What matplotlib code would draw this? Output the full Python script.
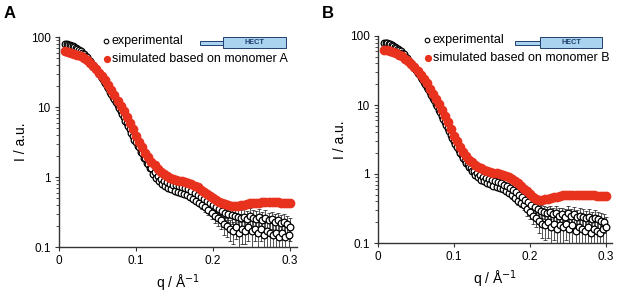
import numpy as np
import matplotlib.pyplot as plt
from matplotlib.patches import Rectangle
from matplotlib.lines import Line2D
from matplotlib.ticker import LogLocator, FixedLocator, NullFormatter

plt.rcParams['font.family'] = ['Liberation Sans', 'DejaVu Sans']

# scattering vector q (1/Angstrom) for the simulated curves
q_sim = [0.008, 0.012, 0.016, 0.020, 0.024, 0.028, 0.032, 0.036, 0.040, 0.044,
         0.048, 0.052, 0.056, 0.060, 0.064, 0.068, 0.072, 0.076, 0.080, 0.084,
         0.088, 0.092, 0.096, 0.100, 0.104, 0.108, 0.112, 0.116, 0.120, 0.124,
         0.128, 0.132, 0.136, 0.140, 0.144, 0.148, 0.152, 0.156, 0.160, 0.164,
         0.168, 0.172, 0.176, 0.180, 0.184, 0.188, 0.192, 0.196, 0.200, 0.204,
         0.208, 0.212, 0.216, 0.220, 0.224, 0.228, 0.232, 0.236, 0.240, 0.244,
         0.248, 0.252, 0.256, 0.260, 0.264, 0.268, 0.272, 0.276, 0.280, 0.284,
         0.288, 0.292, 0.296, 0.300]

# q for the experimental points
q_exp = [0.008, 0.010, 0.012, 0.014, 0.016, 0.018, 0.020, 0.022, 0.024, 0.026,
         0.028, 0.030, 0.032, 0.034, 0.036, 0.038, 0.040, 0.042, 0.044, 0.046,
         0.048, 0.050, 0.052, 0.054, 0.056, 0.058, 0.060, 0.062, 0.064, 0.066,
         0.068, 0.070, 0.072, 0.074, 0.076, 0.078, 0.080, 0.082, 0.084, 0.086,
         0.088, 0.090, 0.092, 0.094, 0.096, 0.098, 0.100, 0.102, 0.104, 0.106,
         0.108, 0.110, 0.112, 0.114, 0.116, 0.118, 0.120, 0.122, 0.124, 0.126,
         0.128, 0.130, 0.132, 0.134, 0.136, 0.138, 0.140, 0.142, 0.144, 0.146,
         0.148, 0.150, 0.152, 0.154, 0.156, 0.158, 0.160, 0.162, 0.164, 0.166,
         0.168, 0.170, 0.172, 0.174, 0.176, 0.178, 0.180, 0.182, 0.184, 0.186,
         0.188, 0.190, 0.192, 0.194, 0.196, 0.198, 0.200, 0.202, 0.204, 0.206,
         0.208, 0.210, 0.212, 0.214, 0.216, 0.218, 0.220, 0.222, 0.224, 0.226,
         0.228, 0.230, 0.232, 0.234, 0.236, 0.238, 0.240, 0.242, 0.244, 0.246,
         0.248, 0.250, 0.252, 0.254, 0.256, 0.258, 0.260, 0.262, 0.264, 0.266,
         0.268, 0.270, 0.272, 0.274, 0.276, 0.278, 0.280, 0.282, 0.284, 0.286,
         0.288, 0.290, 0.292, 0.294, 0.296, 0.298, 0.300]

err_exp = [1.6, 1.6, 1.5, 1.5, 1.4, 1.4, 1.3, 1.3, 1.2, 1.2,
           1.1, 1.1, 1.0, 1.0, 0.9, 0.9, 0.8, 0.8, 0.7, 0.7,
           0.6, 0.6, 0.5, 0.5, 0.45, 0.45, 0.4, 0.4, 0.33, 0.33,
           0.28, 0.28, 0.24, 0.24, 0.2, 0.2, 0.17, 0.17, 0.14, 0.14,
           0.12, 0.12, 0.1, 0.1, 0.09, 0.09, 0.08, 0.08, 0.07, 0.07,
           0.06, 0.06, 0.06, 0.06, 0.05, 0.05, 0.05, 0.05, 0.05, 0.05,
           0.05, 0.05, 0.05, 0.05, 0.05, 0.05, 0.05, 0.05, 0.05, 0.05,
           0.05, 0.05, 0.05, 0.05, 0.05, 0.05, 0.05, 0.05, 0.05, 0.05,
           0.05, 0.05, 0.05, 0.05, 0.05, 0.05, 0.05, 0.05, 0.05, 0.05,
           0.05, 0.05, 0.05, 0.05, 0.06, 0.06, 0.06, 0.06, 0.06, 0.06,
           0.06, 0.06, 0.07, 0.06, 0.07, 0.06, 0.07, 0.06, 0.08, 0.06,
           0.08, 0.06, 0.08, 0.07, 0.08, 0.07, 0.08, 0.06, 0.08, 0.07,
           0.08, 0.07, 0.08, 0.06, 0.08, 0.07, 0.08, 0.06, 0.08, 0.07,
           0.08, 0.07, 0.07, 0.06, 0.07, 0.07, 0.07, 0.06, 0.07, 0.07,
           0.07, 0.06, 0.07, 0.06, 0.07, 0.06, 0.07]

# panel A
exp_a = [80, 80, 78, 78, 75, 74, 72, 69, 68, 65,
         63, 59, 57, 53, 51, 47, 45, 42, 40, 37,
         35, 32, 30, 28, 26, 23.5, 22, 20, 18.5, 16.6,
         15.5, 14, 13, 11.6, 10.8, 9.6, 8.9, 7.9, 7.3, 6.4,
         6.0, 5.3, 4.9, 4.3, 3.9, 3.4, 3.2, 2.8, 2.65, 2.25,
         2.2, 1.88, 1.85, 1.58, 1.55, 1.33, 1.34, 1.12, 1.17, 0.98,
         1.05, 0.88, 0.95, 0.80, 0.89, 0.74, 0.84, 0.70, 0.80, 0.67,
         0.78, 0.64, 0.76, 0.62, 0.74, 0.60, 0.72, 0.57, 0.69, 0.55,
         0.67, 0.52, 0.63, 0.49, 0.60, 0.46, 0.56, 0.43, 0.52, 0.40,
         0.49, 0.37, 0.45, 0.34, 0.42, 0.31, 0.40, 0.28, 0.37, 0.26,
         0.35, 0.24, 0.33, 0.21, 0.31, 0.20, 0.30, 0.18, 0.29, 0.17,
         0.28, 0.19, 0.27, 0.16, 0.26, 0.18, 0.27, 0.17, 0.25, 0.19,
         0.28, 0.17, 0.26, 0.18, 0.25, 0.16, 0.27, 0.18, 0.24, 0.15,
         0.26, 0.17, 0.24, 0.16, 0.25, 0.15, 0.23, 0.16, 0.24, 0.14,
         0.22, 0.16, 0.23, 0.14, 0.21, 0.15, 0.19]
sim_a = [63, 62, 60, 58, 56, 53.5, 50.5, 47, 43, 39,
         35, 31, 27.5, 24, 20.5, 17.3, 14.6, 12.3, 10.5, 8.8,
         7.3, 6.0, 4.8, 3.8, 3.2, 2.65, 2.2, 1.9, 1.65, 1.47,
         1.3, 1.18, 1.09, 1.02, 0.97, 0.93, 0.91, 0.89, 0.87, 0.85,
         0.82, 0.79, 0.75, 0.71, 0.66, 0.62, 0.58, 0.54, 0.50, 0.47,
         0.44, 0.42, 0.41, 0.40, 0.39, 0.39, 0.39, 0.40, 0.40, 0.41,
         0.42, 0.42, 0.43, 0.43, 0.44, 0.44, 0.44, 0.44, 0.44, 0.44,
         0.43, 0.43, 0.43, 0.43]

# panel B
exp_b = [79, 80, 78, 77, 76, 74, 71, 70, 67, 65,
         62, 60, 56, 54, 50, 48, 44, 42, 39, 37,
         34, 32, 29.5, 28, 25.5, 24, 21.5, 20, 18.2, 16.8,
         15.2, 14, 12.7, 11.7, 10.5, 9.6, 8.6, 7.8, 7.0, 6.3,
         5.7, 5.2, 4.6, 4.2, 3.7, 3.35, 3.0, 2.75, 2.45, 2.25,
         2.0, 1.9, 1.7, 1.62, 1.45, 1.4, 1.25, 1.22, 1.1, 1.1,
         0.98, 1.02, 0.90, 0.96, 0.83, 0.91, 0.78, 0.88, 0.74, 0.85,
         0.71, 0.82, 0.68, 0.79, 0.65, 0.76, 0.62, 0.73, 0.60, 0.70,
         0.56, 0.66, 0.53, 0.62, 0.49, 0.58, 0.45, 0.54, 0.41, 0.50,
         0.38, 0.46, 0.35, 0.42, 0.31, 0.39, 0.28, 0.36, 0.25, 0.33,
         0.23, 0.31, 0.21, 0.29, 0.19, 0.28, 0.18, 0.27, 0.20, 0.28,
         0.17, 0.26, 0.19, 0.27, 0.16, 0.25, 0.18, 0.26, 0.17, 0.24,
         0.19, 0.27, 0.16, 0.25, 0.18, 0.26, 0.15, 0.24, 0.17, 0.25,
         0.16, 0.24, 0.15, 0.23, 0.17, 0.24, 0.14, 0.22, 0.16, 0.23,
         0.15, 0.22, 0.14, 0.21, 0.16, 0.20, 0.17]
sim_b = [63, 62, 60, 58, 56, 53.5, 50.5, 47, 43, 39,
         35, 31, 27.5, 24, 20.5, 17.3, 14.6, 12.3, 10.3, 8.5,
         6.9, 5.6, 4.5, 3.6, 3.0, 2.5, 2.1, 1.82, 1.62, 1.47,
         1.36, 1.28, 1.21, 1.16, 1.12, 1.08, 1.05, 1.02, 0.99, 0.96,
         0.93, 0.89, 0.85, 0.79, 0.73, 0.67, 0.61, 0.56, 0.51, 0.47,
         0.44, 0.42, 0.42, 0.43, 0.44, 0.45, 0.46, 0.47, 0.48, 0.49,
         0.50, 0.50, 0.50, 0.50, 0.50, 0.50, 0.50, 0.50, 0.49, 0.49,
         0.48, 0.48, 0.48, 0.48]

W, H = 617, 294
RED = '#e8321e'
BLUE_FILL = '#a9d3ef'
BLUE_EDGE = '#1f3f6e'


def px(x, y):
    """pixel position (from top-left) -> figure fraction"""
    return x / W, 1 - y / H


def draw_panel(fig, rect, exp, sim, xmax):
    ax = fig.add_axes(rect)
    ax.errorbar(q_exp, exp, yerr=err_exp, fmt='none', ecolor='#111111',
                elinewidth=0.5, capsize=1.3, capthick=0.5, zorder=2)
    ax.plot(q_exp, exp, 'o', ms=4.8, mfc='white', mec='black', mew=0.9,
            zorder=3)
    # dense simulated points form a continuous thick band
    ax.plot(q_sim, sim, '-o', lw=4.3, ms=6.0, color=RED, mec=RED,
            solid_capstyle='round', zorder=4)

    ax.set_yscale('log')
    ax.set_ylim(0.1, 100)
    ax.set_xlim(0, xmax)
    ax.xaxis.set_major_locator(FixedLocator([0, 0.1, 0.2, 0.3]))
    ax.set_xticklabels(['0', '0.1', '0.2', '0.3'])
    ax.yaxis.set_major_locator(FixedLocator([0.1, 1, 10, 100]))
    ax.set_yticklabels(['0.1', '1', '10', '100'])
    ax.yaxis.set_minor_locator(LogLocator(base=10, subs=np.arange(2, 10)))
    ax.yaxis.set_minor_formatter(NullFormatter())
    ax.tick_params(axis='both', which='major', labelsize=8.5, length=3,
                   width=0.8, color='#333333', pad=3)
    ax.tick_params(axis='y', which='minor', length=2, width=0.6,
                   color='#333333')
    for side in ['top', 'right']:
        ax.spines[side].set_visible(False)
    for side in ['left', 'bottom']:
        ax.spines[side].set_color('#333333')
        ax.spines[side].set_linewidth(1.0)
    ax.set_xlabel('q / Å$^{-1}$', fontsize=10, labelpad=4)
    ax.set_ylabel('I / a.u.', fontsize=10, labelpad=2)
    return ax


def draw_legend(fig, x0, y0, text, hect):
    fig.add_artist(Line2D([px(x0, y0)[0]], [px(x0, y0)[1]], marker='o',
                          ms=3.3, mfc='white', mec='black', mew=0.8,
                          transform=fig.transFigure))
    fig.add_artist(Line2D([px(x0 + 1, y0 + 18)[0]], [px(x0 + 1, y0 + 18)[1]],
                          marker='o', ms=4.2, color=RED,
                          transform=fig.transFigure))
    fig.text(*px(x0 + 6, y0), 'experimental', fontsize=9, va='center')
    fig.text(*px(x0 + 6, y0 + 18), text, fontsize=9, va='center')

    # domain cartoon
    tx0, tx1, bx1 = hect
    lx, ly = px(tx0, 45)
    fig.add_artist(Rectangle((lx, ly), (tx1 - tx0) / W, 4 / H,
                             transform=fig.transFigure, fc=BLUE_FILL,
                             ec=BLUE_EDGE, lw=0.7))
    bx, by = px(tx1, 48)
    fig.add_artist(Rectangle((bx, by), (bx1 - tx1) / W, 11 / H,
                             transform=fig.transFigure, fc=BLUE_FILL,
                             ec=BLUE_EDGE, lw=0.7))
    fig.text(*px((tx1 + bx1) / 2, 42.5), 'HECT', fontsize=5.3,
             fontweight='bold', color=BLUE_EDGE, ha='center', va='center')


fig = plt.figure(figsize=(W / 100, H / 100), dpi=100)

draw_panel(fig, [59 / W, 1 - 247 / H, 238 / W, 210 / H], exp_a, sim_a, 0.309)
draw_panel(fig, [378 / W, 1 - 243 / H, 234 / W, 207 / H], exp_b, sim_b, 0.308)

draw_legend(fig, 106, 41, 'simulated based on monomer A', (200, 223, 286))
draw_legend(fig, 427, 40, 'simulated based on monomer B', (515, 540, 602))

fig.text(*px(4, 13), 'A', fontsize=12, fontweight='bold', va='center')
fig.text(*px(322, 13), 'B', fontsize=12, fontweight='bold', va='center')

fig.savefig('out.png', dpi=100)
